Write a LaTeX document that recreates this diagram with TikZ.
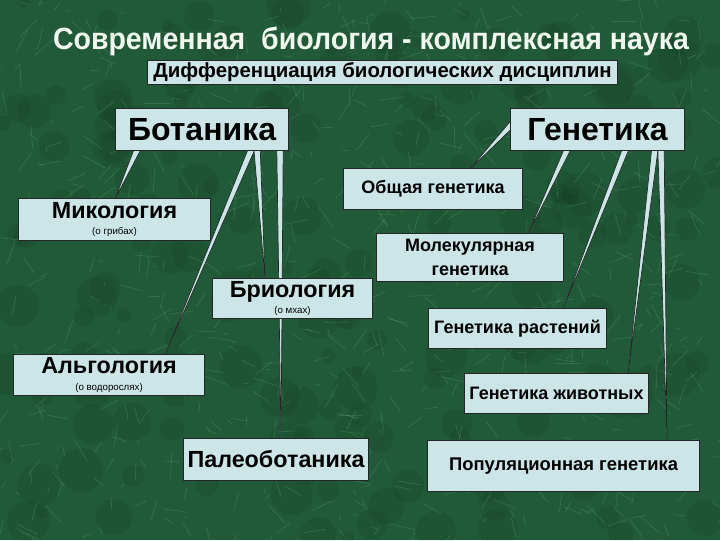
\documentclass[tikz,border=0pt]{standalone}
\usepackage{fontspec}
\setmainfont{Liberation Sans}
\usetikzlibrary{calc}
\pgfdeclarelayer{bgl}
\pgfdeclarelayer{wl}
\pgfsetlayers{bgl,wl,main}
\definecolor{bgg}{RGB}{32,90,56}
\definecolor{vein}{RGB}{120,185,135}
\definecolor{boxc}{RGB}{204,230,232}
\definecolor{titlec}{RGB}{240,248,240}
\newcommand{\fsz}[1]{\fontsize{#1}{#1}\selectfont}
\tikzset{
 box/.style={draw=black!85, line width=0.8pt, fill=boxc, anchor=north west, inner sep=0pt, align=center},
 ptr/.style={fill=boxc, draw=black!85, line width=0.5pt, line join=miter},
 big/.style={font=\bfseries\fsz{24}},
 mid/.style={font=\bfseries\fsz{17.5}},
 sml/.style={font=\bfseries\fsz{13.5}}
}
\newcommand{\bx}[7]{\node[box, #6, minimum width={(#4-#2)*0.75pt}, minimum height={(#5-#3)*0.75pt}] (#1) at (#2,#3) {#7};}
\newcommand{\pointerw}[2]{\filldraw[ptr] ($(#1)!2.4pt!90:(#2)$) -- (#2) -- ($(#1)!2.4pt!-90:(#2)$) -- cycle;}
\newcommand{\subnote}[1]{{\mdseries\fsz{7.3}#1}}
\begin{document}
\begin{tikzpicture}[x=0.75pt,y=-0.75pt]
\useasboundingbox (0,0) rectangle (720,540);
\begin{pgfonlayer}{bgl}
\fill[bgg] (0,0) rectangle (720,540);
\pgfmathsetseed{12}
\foreach \i in {1,...,200}{
  \pgfmathsetmacro{\xa}{random(0,720)}
  \pgfmathsetmacro{\ya}{random(0,540)}
  \pgfmathsetmacro{\rr}{random(6,22)}
  \fill[black, opacity=0.06] (\xa,\ya) circle (\rr);
}
\foreach \i in {1,...,700}{
  \pgfmathsetmacro{\xa}{random(0,720)}
  \pgfmathsetmacro{\ya}{random(0,540)}
  \pgfmathsetmacro{\ang}{random(0,359)}
  \pgfmathsetmacro{\len}{random(4,26)}
  \draw[vein, opacity=0.22, line width=0.6pt] (\xa,\ya) -- ++(\ang:\len);
}
\end{pgfonlayer}

\node[font=\bfseries\fsz{23}, text=titlec] (title) at (371,41) {\scalebox{0.93}[1]{Современная~ биология - комплексная наука}};

\bx{sub}{147}{60}{617}{84}{font=\bfseries\fsz{15.3}}{Дифференциация биологических дисциплин}
\bx{bot}{115}{108}{288}{150}{big}{Ботаника}
\bx{gen}{510}{108}{684}{150}{big}{Генетика}
\bx{obs}{343}{168}{522}{209}{sml}{Общая генетика}
\bx{mik}{18}{198}{210}{240}{mid}{Микология\\[-5pt]\subnote{(о грибах)}}
\bx{mol}{376}{233}{563}{281}{sml}{Молекулярная\\[4pt]генетика}
\bx{bri}{212}{278}{372}{318}{mid}{Бриология\\[-5pt]\subnote{(о мхах)}}
\bx{gr}{428}{308}{606}{348}{sml}{Генетика растений}
\bx{alg}{13}{354}{204}{395}{mid}{Альгология\\[-5pt]\subnote{(о водорослях)}}
\bx{gz}{464}{373}{648}{413}{sml}{Генетика животных}
\bx{pal}{183}{438}{368}{480}{mid}{Палеоботаника}
\bx{pop}{427}{440}{699}{491}{font=\bfseries\fsz{13.8}}{Популяционная генетика}

\begin{pgfonlayer}{wl}
\coordinate (p1) at ($(bot.south west)+(23,-3)$);
\coordinate (c1) at ($(mik.north west)+(97,1)$);
\coordinate (p2) at ($(bot.south west)+(137,-3)$);
\coordinate (c2) at ($(alg.north west)+(152,1)$);
\coordinate (p3) at ($(bot.south west)+(142,-3)$);
\coordinate (c3) at ($(bri.north west)+(53,1)$);
\coordinate (p4) at ($(bot.south west)+(165,-3)$);
\coordinate (c4) at ($(pal.north west)+(98,1)$);
\coordinate (p5) at ($(gen.north west)+(4,14)$);
\coordinate (c5) at ($(obs.north west)+(127,1)$);
\coordinate (p6) at ($(gen.south west)+(58,-3)$);
\coordinate (c6) at ($(mol.north west)+(152,1)$);
\coordinate (p7) at ($(gen.south west)+(116,-3)$);
\coordinate (c7) at ($(gr.north west)+(135,1)$);
\coordinate (p8) at ($(gen.south west)+(145,-3)$);
\coordinate (c8) at ($(gz.north west)+(164,1)$);
\coordinate (p9) at ($(gen.south west)+(151,-3)$);
\coordinate (c9) at ($(pop.north west)+(240,1)$);
\pointerw{p1}{c1}
\pointerw{p2}{c2}
\pointerw{p3}{c3}
\pointerw{p4}{c4}
\pointerw{p5}{c5}
\pointerw{p6}{c6}
\pointerw{p7}{c7}
\pointerw{p8}{c8}
\pointerw{p9}{c9}
\end{pgfonlayer}
\end{tikzpicture}
\end{document}
